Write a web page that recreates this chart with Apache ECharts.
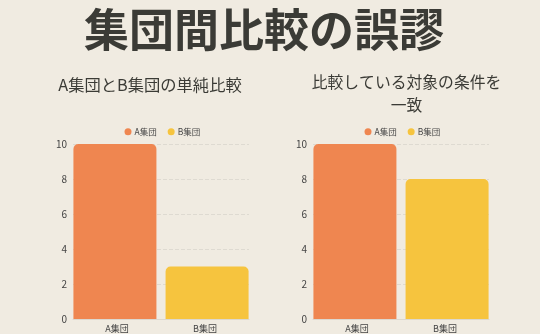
<!DOCTYPE html>
<html>
<head>
<meta charset="utf-8">
<script src="https://cdn.jsdelivr.net/npm/echarts@6/dist/echarts.min.js"></script>
<style>
  html, body { margin: 0; padding: 0; background: #f0ebe1; }
  #chart { width: 540px; height: 334px; }
</style>
</head>
<body>
<div id="chart"></div>
<script>
// Group comparison data
const categories = ['A集団', 'B集団'];
const seriesNames = ['A集団', 'B集団'];
const simpleValues = [10, 3];     // naive comparison
const matchedValues = [10, 8];    // conditions aligned
const yTicks = [0, 2, 4, 6, 8, 10];

const mainTitle = '集団間比較の誤謬';
const leftTitle = 'A集団とB集団の単純比較';
const rightTitle = '比較している対象の条件を\n一致';

const colors = ['#ef8650', '#f6c43e'];
const font = '"Noto Sans CJK JP", "Noto Sans", sans-serif';

const chart = echarts.init(document.getElementById('chart'));

function axesFor(gridIndex) {
  return {
    x: {
      type: 'category', gridIndex, data: categories,
      axisLine: { lineStyle: { color: '#dcd8cf' } },
      axisTick: { show: false },
      axisLabel: { color: '#444', fontSize: 9, fontFamily: font, margin: 5 }
    },
    y: {
      type: 'value', gridIndex, min: yTicks[0], max: yTicks[yTicks.length - 1], interval: 2,
      axisLine: { show: false },
      axisTick: { show: false },
      axisLabel: { color: '#444', fontSize: 10, fontFamily: font, margin: 6 },
      splitLine: { lineStyle: { color: '#dedad1', type: 'dashed' } }
    }
  };
}

// Each group is its own series so the legend lists it; the group only has a value in its own category
function barSeries(values, gridIndex) {
  return seriesNames.map((name, i) => ({
    name, type: 'bar', xAxisIndex: gridIndex, yAxisIndex: gridIndex,
    barWidth: 83,
    barGap: '-95%',
    data: categories.map((c, j) => (j === i ? values[j] : '-')),
    itemStyle: { color: colors[i], borderRadius: [5, 5, 0, 0] }
  }));
}

const a0 = axesFor(0), a1 = axesFor(1);

const legendBase = {
  data: seriesNames, icon: 'circle', padding: 0,
  itemWidth: 7, itemHeight: 7, itemGap: 11,
  textStyle: { fontSize: 8.5, color: '#444', fontFamily: font, padding: [0, 0, 0, -2] }
};

chart.setOption({
  backgroundColor: '#f0ebe1',
  color: colors,
  textStyle: { fontFamily: font },
  title: [
    { text: mainTitle, left: 259, top: 2, textAlign: 'center',
      textStyle: { fontSize: 45, fontWeight: 'bold', color: '#3b3b36', fontFamily: font } },
    { text: leftTitle, left: 145, top: 71.5, textAlign: 'center',
      textStyle: { fontSize: 16.3, fontWeight: 'normal', color: '#3b3b36', fontFamily: font } },
    { text: rightTitle, left: 401.5, top: 66, textAlign: 'center',
      textStyle: { fontSize: 15.8, fontWeight: 'normal', color: '#3b3b36', fontFamily: font, lineHeight: 22.5 } }
  ],
  legend: [
    Object.assign({ left: 124.5, top: 127.5 }, legendBase),
    Object.assign({ left: 364.5, top: 127.5 }, legendBase)
  ],
  grid: [
    { left: 73, right: 291, top: 144, bottom: 15 },
    { left: 313, right: 51, top: 144, bottom: 15 }
  ],
  xAxis: [a0.x, a1.x],
  yAxis: [a0.y, a1.y],
  series: [...barSeries(simpleValues, 0), ...barSeries(matchedValues, 1)]
});
</script>
</body>
</html>
